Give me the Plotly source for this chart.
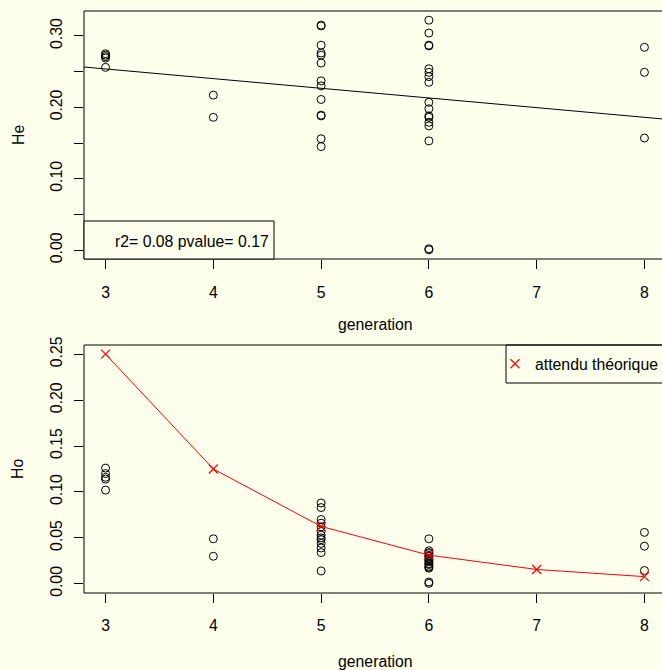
import plotly.graph_objects as go

# ---------------- data ----------------
generations = [3, 4, 5, 6, 8]

he_g3 = [0.275, 0.273, 0.271, 0.269, 0.256]
he_g4 = [0.217, 0.186]
he_g5 = [0.315, 0.314, 0.287, 0.276, 0.273, 0.262, 0.237, 0.230, 0.211, 0.189, 0.188, 0.156, 0.145]
he_g6 = [0.322, 0.304, 0.287, 0.286, 0.254, 0.249, 0.243, 0.235, 0.207, 0.198, 0.188, 0.186,
         0.179, 0.174, 0.153, 0.002, 0.0005]
he_g8 = [0.284, 0.249, 0.157]

ho_g3 = [0.126, 0.120, 0.116, 0.114, 0.102]
ho_g4 = [0.049, 0.030]
ho_g5 = [0.088, 0.083, 0.070, 0.066, 0.062, 0.057, 0.053, 0.050, 0.048, 0.044, 0.039, 0.034, 0.014]
ho_g6 = [0.049, 0.036, 0.034, 0.033, 0.031, 0.030, 0.028, 0.027, 0.025, 0.024, 0.022, 0.021,
         0.019, 0.018, 0.017, 0.002, 0.0005]
ho_g8 = [0.056, 0.041, 0.0145]

theory_gen = [3, 4, 5, 6, 7, 8]
theory_ho = [0.25, 0.125, 0.0625, 0.03125, 0.015625, 0.0078125]

fit_intercept = 0.2944
fit_slope = -0.01355
fit_label = "r2= 0.08 pvalue= 0.17"
legend_label = "attendu théorique"

he_ticks = [0.0, 0.05, 0.10, 0.15, 0.20, 0.25, 0.30]
he_ticktext = ["0.00", "", "0.10", "", "0.20", "", "0.30"]
ho_ticks = [0.0, 0.05, 0.10, 0.15, 0.20, 0.25]
ho_ticktext = ["0.00", "0.05", "0.10", "0.15", "0.20", "0.25"]
x_ticks = [3, 4, 5, 6, 7, 8]

# ---------------- build per-point lists ----------------
he_groups = [he_g3, he_g4, he_g5, he_g6, he_g8]
ho_groups = [ho_g3, ho_g4, ho_g5, ho_g6, ho_g8]
he_x, he_y, ho_x, ho_y = [], [], [], []
for g, vals in zip(generations, he_groups):
    he_x += [g] * len(vals)
    he_y += vals
for g, vals in zip(generations, ho_groups):
    ho_x += [g] * len(vals)
    ho_y += vals

# ---------------- geometry ----------------
W, H = 662, 670
BG = "#FDFFEC"
FONT = "Liberation Sans, Arial, Helvetica, sans-serif"
FS = 15.8

def px(x):
    return x / W

def py(y):
    return 1 - y / H

left_px = 84
right_px_full = 666          # R plot region extends slightly past the picture
x_lo, x_hi_full = 2.8, 8.2
x_hi = x_lo + (x_hi_full - x_lo) * (W - left_px) / (right_px_full - left_px)

top1, bot1 = 11, 259
top2, bot2 = 345, 593

def rng(vals):
    lo, hi = min(vals), max(vals)
    d = 0.04 * (hi - lo)
    return [lo - d, hi + d]

he_range = rng(he_y)
ho_range = [-0.01, 0.26]

fig = go.Figure()

# top panel
fig.add_trace(go.Scatter(
    x=he_x, y=he_y, mode="markers", xaxis="x", yaxis="y", showlegend=False,
    marker=dict(symbol="circle-open", size=8, color="black", line=dict(width=1, color="black")),
    hoverinfo="skip"))
fig.add_trace(go.Scatter(
    x=[x_lo, x_hi_full], y=[fit_intercept + fit_slope * x_lo, fit_intercept + fit_slope * x_hi_full],
    mode="lines", xaxis="x", yaxis="y", showlegend=False,
    line=dict(color="black", width=1), hoverinfo="skip"))

# bottom panel
fig.add_trace(go.Scatter(
    x=ho_x, y=ho_y, mode="markers", xaxis="x2", yaxis="y2", showlegend=False,
    marker=dict(symbol="circle-open", size=8, color="black", line=dict(width=1, color="black")),
    hoverinfo="skip"))
fig.add_trace(go.Scatter(
    x=theory_gen, y=theory_ho, mode="lines", xaxis="x2", yaxis="y2", showlegend=False,
    line=dict(color="red", width=1), hoverinfo="skip"))
fig.add_trace(go.Scatter(
    x=theory_gen, y=theory_ho, mode="markers", xaxis="x2", yaxis="y2",
    name=legend_label, showlegend=True,
    marker=dict(symbol="x-thin-open", size=9, color="red", line=dict(width=1.2, color="red")),
    hoverinfo="skip"))

axis_common = dict(
    ticks="outside", ticklen=9, tickwidth=1, tickcolor="black",
    showgrid=False, zeroline=False, showline=False, automargin=False,
    tickfont=dict(family=FONT, size=FS, color="black"),
)

fig.update_layout(
    width=W, height=H,
    margin=dict(l=0, r=0, t=0, b=0, pad=0, autoexpand=False),
    paper_bgcolor=BG, plot_bgcolor=BG,
    font=dict(family=FONT, size=FS, color="black"),
    xaxis=dict(domain=[px(left_px), 1], range=[x_lo, x_hi], tickvals=x_ticks, anchor="y",
               ticklabelstandoff=10, **axis_common),
    yaxis=dict(domain=[py(bot1), py(top1)], range=he_range, tickvals=he_ticks, ticktext=he_ticktext,
               tickangle=-90, anchor="x", ticklabelstandoff=6, **axis_common),
    xaxis2=dict(domain=[px(left_px), 1], range=[x_lo, x_hi], tickvals=x_ticks, anchor="y2",
                ticklabelstandoff=9, **axis_common),
    yaxis2=dict(domain=[py(bot2), py(top2)], range=ho_range, tickvals=ho_ticks, ticktext=ho_ticktext,
                tickangle=-90, anchor="x2", ticklabelstandoff=6, **axis_common),
    legend=dict(x=px(495), y=py(347), xanchor="left", yanchor="top",
                bgcolor="rgba(0,0,0,0)", borderwidth=0,
                font=dict(family=FONT, size=FS, color="black")),
)

shapes = []
# plot boxes (right edge falls outside the picture)
for t, b in [(top1, bot1), (top2, bot2)]:
    shapes.append(dict(type="rect", xref="paper", yref="paper",
                       x0=px(left_px), x1=px(right_px_full), y0=py(b), y1=py(t),
                       line=dict(color="black", width=1), fillcolor="rgba(0,0,0,0)", layer="above"))
# stats legend box (bottom-left of top panel)
shapes.append(dict(type="rect", xref="paper", yref="paper",
                   x0=px(left_px), x1=px(274), y0=py(bot1), y1=py(221),
                   line=dict(color="black", width=1), fillcolor=BG, layer="above"))
# legend box (top-right of bottom panel)
shapes.append(dict(type="rect", xref="paper", yref="paper",
                   x0=px(506), x1=px(700), y0=py(383), y1=py(top2),
                   line=dict(color="black", width=1), fillcolor="rgba(0,0,0,0)", layer="above"))
fig.update_layout(shapes=shapes)

annotations = [
    dict(text=fit_label, xref="paper", yref="paper", x=px(113), y=py(241),
         xanchor="left", yanchor="middle", showarrow=False, font=dict(family=FONT, size=FS)),
    dict(text="He", xref="paper", yref="paper", x=px(18), y=py((top1 + bot1) / 2),
         textangle=-90, xanchor="center", yanchor="middle", showarrow=False, font=dict(family=FONT, size=FS)),
    dict(text="Ho", xref="paper", yref="paper", x=px(18), y=py((top2 + bot2) / 2),
         textangle=-90, xanchor="center", yanchor="middle", showarrow=False, font=dict(family=FONT, size=FS)),
    dict(text="generation", xref="paper", yref="paper", x=px(375), y=py(325),
         xanchor="center", yanchor="middle", showarrow=False, font=dict(family=FONT, size=FS)),
    dict(text="generation", xref="paper", yref="paper", x=px(375), y=py(661),
         xanchor="center", yanchor="middle", showarrow=False, font=dict(family=FONT, size=FS)),
]
fig.update_layout(annotations=annotations)

fig.write_html(
    "out.html",
    config={"displayModeBar": False},
    post_script="document.body.style.margin='0';document.body.style.overflow='hidden';",
)
